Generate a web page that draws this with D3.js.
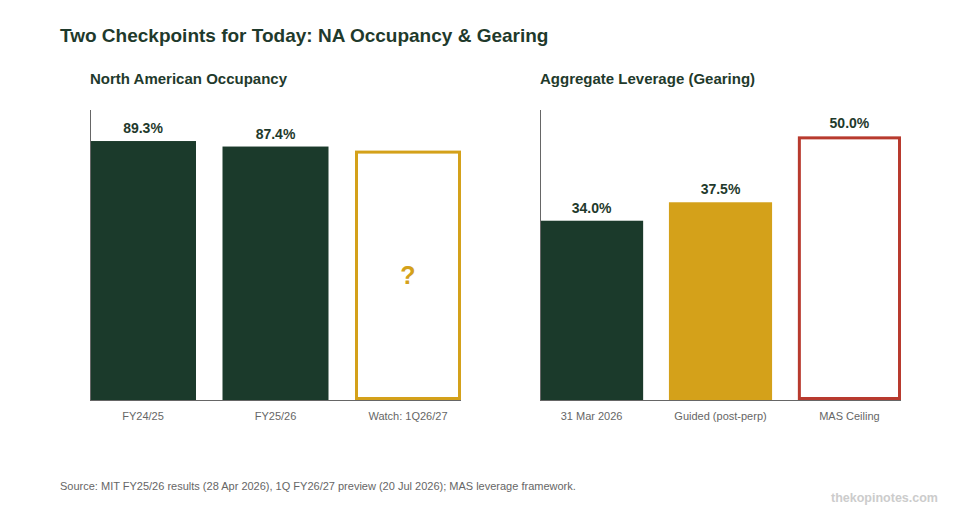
<!DOCTYPE html>
<html><head><meta charset="utf-8">
<script src="https://cdn.jsdelivr.net/npm/d3@7"></script>
<style>body{margin:0;background:#fff}svg{display:block;font-family:"Liberation Sans",Arial,sans-serif}</style>
</head><body><svg id="c" width="960" height="520"></svg>
<script>
const occCategories = ["FY24/25", "FY25/26", "Watch: 1Q26/27"];
const occValues = [89.3, 87.4, 86];
const occLabels = ["89.3%", "87.4%", "?"];
const levCategories = ["31 Mar 2026", "Guided (post-perp)", "MAS Ceiling"];
const levValues = [34.0, 37.5, 50.0];
const levLabels = ["34.0%", "37.5%", "50.0%"];

const GREEN = "#1b3a2b", GOLD = "#d4a11a", RED = "#b83a2e";
const svg = d3.select("#c");

svg.append("text").attr("x", 60).attr("y", 42).attr("font-size", 19).attr("font-weight", "bold")
  .attr("fill", "#1f3a2c").text("Two Checkpoints for Today: NA Occupancy & Gearing");

function panel(opts) {
  const g = svg.append("g");
  g.append("text").attr("x", opts.x0).attr("y", 83.5).attr("font-size", 15).attr("font-weight", "bold")
    .attr("fill", "#1f3a2c").text(opts.title);
  const x = d3.scaleBand().domain(opts.cats).range([opts.x0, opts.x1]).paddingInner(0.2).paddingOuter(0);
  const y = d3.scaleLinear().domain([0, opts.max]).range([400, 110]);
  const data = opts.cats.map((c, i) => ({c, v: opts.vals[i], l: opts.labels[i], s: opts.styles[i]}));
  data.forEach(d => {
    if (d.s.outline) {
      g.append("rect").attr("x", x(d.c) + 1.5).attr("y", y(d.v) + 1.5)
        .attr("width", x.bandwidth() - 3).attr("height", y(0) - y(d.v) - 3)
        .attr("fill", "none").attr("stroke", d.s.color).attr("stroke-width", 3);
    } else {
      g.append("rect").attr("x", x(d.c)).attr("y", y(d.v)).attr("width", x.bandwidth())
        .attr("height", y(0) - y(d.v)).attr("fill", d.s.color);
    }
    if (d.l === "?") {
      g.append("text").attr("x", x(d.c) + x.bandwidth() / 2).attr("y", (y(d.v) + y(0)) / 2 + 9)
        .attr("text-anchor", "middle").attr("font-size", 25).attr("font-weight", "bold")
        .attr("fill", GOLD).text("?");
    } else {
      g.append("text").attr("x", x(d.c) + x.bandwidth() / 2).attr("y", y(d.v) - 8)
        .attr("text-anchor", "middle").attr("font-size", 14).attr("font-weight", "bold")
        .attr("fill", "#1f3a2c").text(d.l);
    }
  });
  const xa = g.append("g").attr("transform", "translate(0,400)").call(d3.axisBottom(x).tickSize(0).tickPadding(12));
  xa.select(".domain").attr("stroke", "#666").attr("d", `M${opts.x0},0.5H${opts.x1}`);
  xa.selectAll("text").attr("font-size", 11).attr("fill", "#666").attr("font-family", "Liberation Sans, Arial, sans-serif");
  const ya = g.append("g").attr("transform", `translate(${opts.x0},0)`).call(d3.axisLeft(y).ticks(0).tickSize(0));
  ya.selectAll(".tick").remove();
  ya.select(".domain").attr("stroke", "#666").attr("d", "M0.5,400V110");
}

panel({x0: 90, x1: 461, title: "North American Occupancy", cats: occCategories, vals: occValues,
  labels: occLabels, max: 100,
  styles: [{color: GREEN}, {color: GREEN}, {color: GOLD, outline: true}]});
panel({x0: 540, x1: 901, title: "Aggregate Leverage (Gearing)", cats: levCategories, vals: levValues,
  labels: levLabels, max: 55,
  styles: [{color: GREEN}, {color: GOLD}, {color: RED, outline: true}]});

svg.append("text").attr("x", 60).attr("y", 490).attr("font-size", 11).attr("fill", "#666")
  .text("Source: MIT FY25/26 results (28 Apr 2026), 1Q FY26/27 preview (20 Jul 2026); MAS leverage framework.");
svg.append("text").attr("x", 938).attr("y", 502).attr("text-anchor", "end").attr("font-size", 12.5)
  .attr("font-weight", "bold").attr("fill", "#cccccc").text("thekopinotes.com");
</script></body></html>
